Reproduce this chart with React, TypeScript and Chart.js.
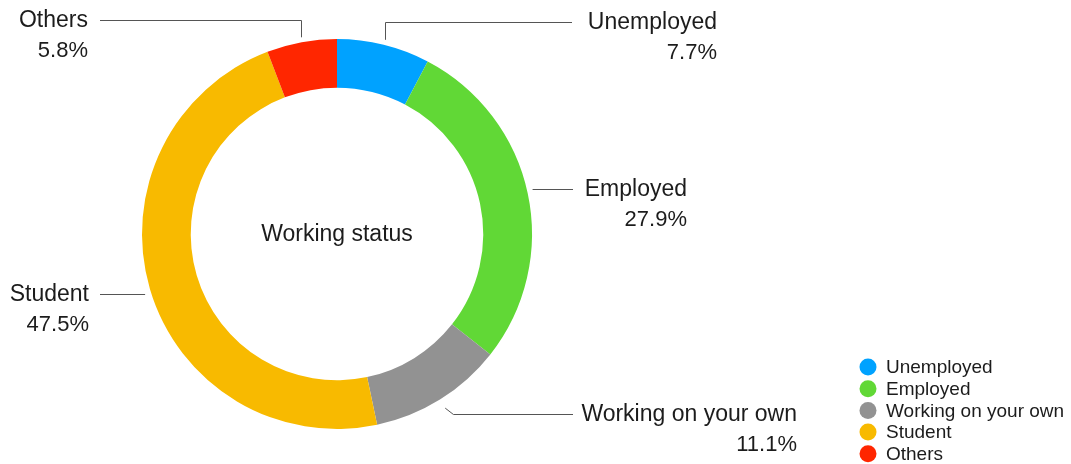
import React, { useEffect, useRef } from "react";
import { Chart, registerables } from "chart.js";

Chart.register(...registerables);

// ---- data ----
const categories = ["Unemployed", "Employed", "Working on your own", "Student", "Others"];
const shares = [7.7, 27.9, 11.1, 47.5, 5.8];
const percentLabels = ["7.7%", "27.9%", "11.1%", "47.5%", "5.8%"];
const sliceColors = ["#00A2FF", "#61D836", "#929292", "#F8BA00", "#FF2600"];
const centerTitle = "Working status";

// ---- callout layout (label placement only) ----
type Route = "up" | "flat" | "diag";
const calloutRoutes: Route[] = ["up", "flat", "diag", "flat", "up"];
const calloutLineEndX = [572, 573, 573, 100, 100];
const calloutLabelY = [22, 189, 414, 294, 20];
const calloutTextRight = [717, 687, 797, 89, 88];

const FONT = '"Liberation Sans", Arial, Helvetica, sans-serif';
const TEXT = "#1c1c1c";
const LINE = "#555555";

const calloutPlugin = {
  id: "callouts",
  afterDraw(chart: any) {
    const ctx = chart.ctx as CanvasRenderingContext2D;
    const meta = chart.getDatasetMeta(0);
    ctx.save();
    meta.data.forEach((arc: any, i: number) => {
      const mid = (arc.startAngle + arc.endAngle) / 2;
      const r = arc.outerRadius + (calloutRoutes[i] === "diag" ? 10 : 5);
      const sx = arc.x + Math.cos(mid) * r;
      const sy = arc.y + Math.sin(mid) * r;
      const ly = calloutLabelY[i];
      const ex = calloutLineEndX[i];
      ctx.beginPath();
      ctx.strokeStyle = LINE;
      ctx.lineWidth = 1;
      if (calloutRoutes[i] === "up") {
        ctx.moveTo(Math.round(sx) + 0.5, sy);
        ctx.lineTo(Math.round(sx) + 0.5, ly + 0.5);
        ctx.lineTo(ex, ly + 0.5);
      } else if (calloutRoutes[i] === "flat") {
        ctx.moveTo(sx, ly + 0.5);
        ctx.lineTo(ex, ly + 0.5);
      } else {
        const dx = (ly - sy) * 1.4;
        ctx.moveTo(sx, sy);
        ctx.lineTo(sx + dx, ly + 0.5);
        ctx.lineTo(ex, ly + 0.5);
      }
      ctx.stroke();

      ctx.fillStyle = TEXT;
      ctx.textAlign = "right";
      ctx.textBaseline = "middle";
      ctx.font = `23px ${FONT}`;
      ctx.fillText(categories[i], calloutTextRight[i], ly + 1);
      ctx.font = `22px ${FONT}`;
      ctx.fillText(percentLabels[i], calloutTextRight[i], ly + 31);
    });

    // center title
    const a0 = meta.data[0];
    if (a0) {
      ctx.textAlign = "center";
      ctx.textBaseline = "middle";
      ctx.font = `23px ${FONT}`;
      ctx.fillStyle = TEXT;
      ctx.fillText(centerTitle, a0.x, a0.y + 1);
    }

    // legend
    const lx = 868;
    const ly0 = 367;
    const step = 21.7;
    categories.forEach((c, i) => {
      const y = ly0 + i * step;
      ctx.beginPath();
      ctx.fillStyle = sliceColors[i];
      ctx.arc(lx, y, 8.5, 0, Math.PI * 2);
      ctx.fill();
      ctx.fillStyle = TEXT;
      ctx.textAlign = "left";
      ctx.textBaseline = "middle";
      ctx.font = `19px ${FONT}`;
      ctx.fillText(c, lx + 18, y + 1);
    });
    ctx.restore();
  },
};

export default function App() {
  const ref = useRef<HTMLCanvasElement | null>(null);
  useEffect(() => {
    if (!ref.current) return;
    const chart = new Chart(ref.current, {
      type: "doughnut",
      data: {
        labels: categories,
        datasets: [
          {
            data: shares,
            backgroundColor: sliceColors,
            borderWidth: 0,
          },
        ],
      },
      options: {
        responsive: false,
        animation: false,
        cutout: "75%",
        layout: { padding: { left: 142, right: 539, top: 39, bottom: 35 } },
        plugins: {
          legend: { display: false },
          tooltip: { enabled: false },
        },
      },
      plugins: [calloutPlugin],
    });
    return () => chart.destroy();
  }, []);
  return (
    <div style={{ position: "fixed", left: 0, top: 0, width: 1071, height: 464, background: "#fff" }}>
      <canvas ref={ref} width={1071} height={464} />
    </div>
  );
}
